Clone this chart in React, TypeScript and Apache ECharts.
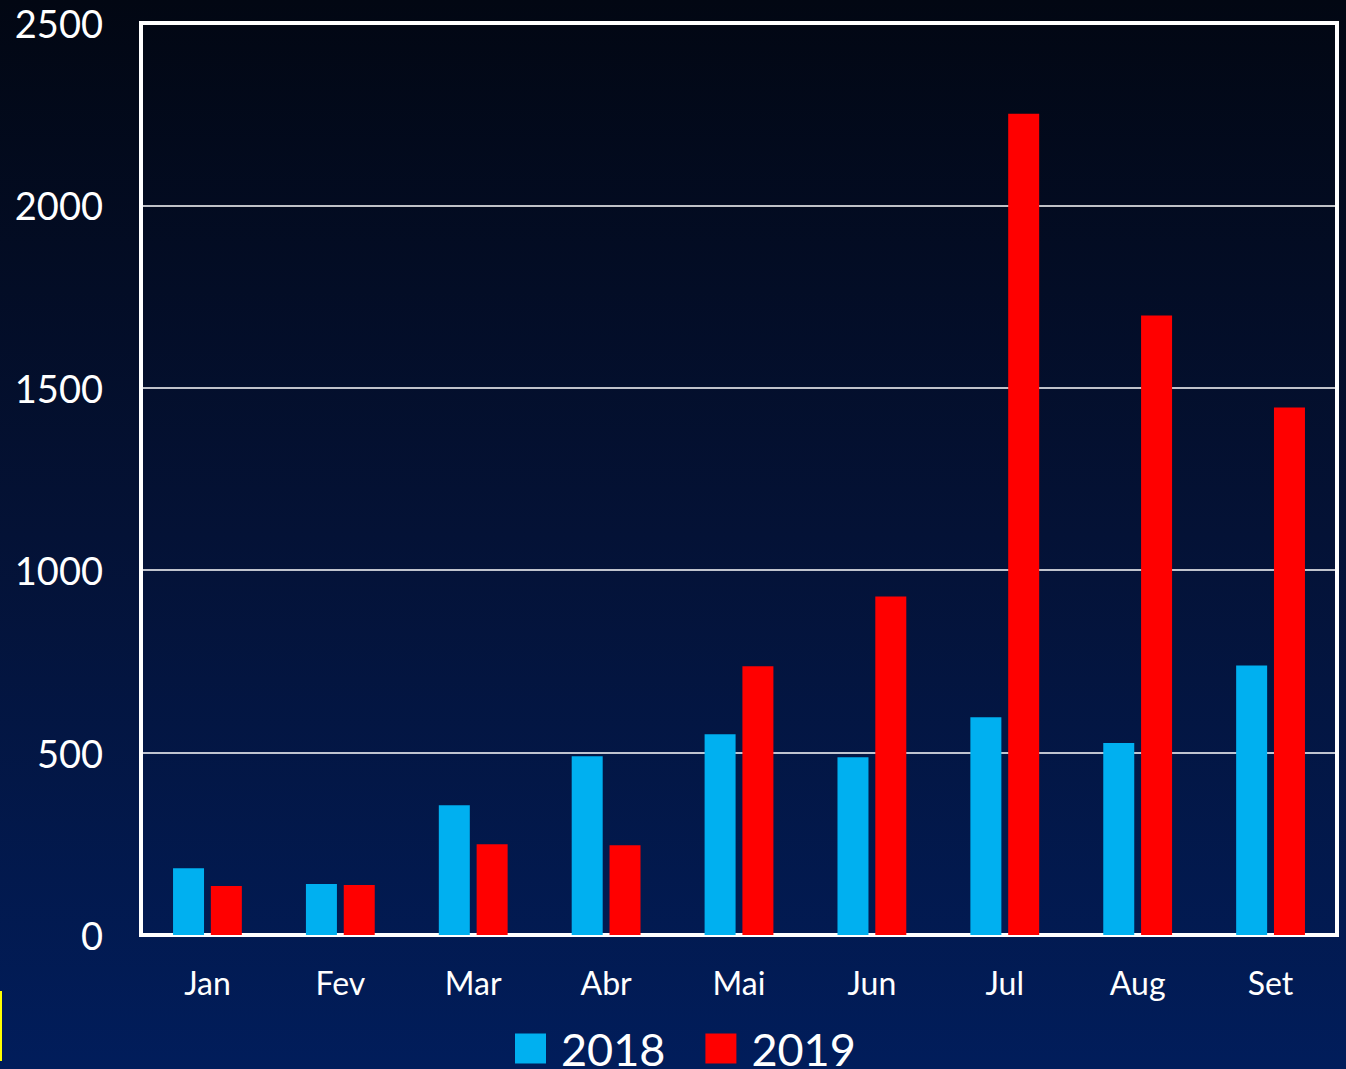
import React, { useEffect, useRef } from "react";
import * as echarts from "echarts";

const months = ["Jan", "Fev", "Mar", "Abr", "Mai", "Jun", "Jul", "Aug", "Set"];
const values2018 = [183, 140, 356, 490, 550, 487, 597, 526, 739];
const values2019 = [134, 137, 249, 246, 737, 928, 2251, 1698, 1446];
const yTicks = { min: 0, max: 2500, interval: 500 };

const FONT = "Lato, 'Open Sans', sans-serif";

export default function App() {
  const ref = useRef<HTMLDivElement>(null);
  useEffect(() => {
    document.body.style.margin = "0";
    const chart = echarts.init(ref.current!, undefined, { renderer: "svg" });
    chart.setOption({
      animation: false,
      backgroundColor: "transparent",
      grid: {
        left: 141,
        right: 9,
        top: 23,
        bottom: 134,
        show: true,
        borderColor: "#ffffff",
        borderWidth: 4,
        backgroundColor: "transparent",
      },
      legend: {
        data: ["2018", "2019"],
        left: 515,
        top: 1026,
        padding: 0,
        itemWidth: 31,
        itemHeight: 30,
        itemGap: 40,
        icon: "rect",
        textStyle: {
          color: "#ffffff",
          fontSize: 45,
          fontFamily: FONT,
          lineHeight: 40,
          padding: [0, 0, 0, 10],
        },
      },
      xAxis: {
        type: "category",
        data: months,
        axisLine: { show: true, lineStyle: { color: "#ffffff", width: 3 } },
        axisTick: { show: false },
        axisLabel: { color: "#ffffff", fontSize: 32, fontFamily: FONT, margin: 31 },
      },
      yAxis: {
        type: "value",
        min: yTicks.min,
        max: yTicks.max,
        interval: yTicks.interval,
        axisLine: { show: false },
        axisTick: { show: false },
        splitLine: { show: true, lineStyle: { color: "#ffffff", width: 1.5 } },
        axisLabel: {
          color: "#ffffff",
          fontSize: 38,
          fontFamily: FONT,
          margin: 38,
          formatter: (v: number) => String(v),
        },
      },
      series: [
        {
          name: "2018",
          type: "bar",
          data: values2018,
          barWidth: 31,
          barGap: "22%",
          itemStyle: { color: "#00b0f0" },
        },
        {
          name: "2019",
          type: "bar",
          data: values2019,
          barWidth: 31,
          itemStyle: { color: "#ff0000" },
        },
      ],
      graphic: [
        {
          type: "rect",
          left: 0,
          top: 991,
          shape: { width: 2, height: 70 },
          style: { fill: "#ffff00" },
          silent: true,
        },
      ],
    });
    return () => chart.dispose();
  }, []);
  return (
    <div
      style={{
        position: "absolute",
        left: 0,
        top: 0,
        width: 1346,
        height: 1069,
        background: "linear-gradient(to bottom, #020713 0%, #041236 50%, #011d5b 100%)",
      }}
    >
      <div ref={ref} style={{ width: 1346, height: 1069 }} />
    </div>
  );
}
